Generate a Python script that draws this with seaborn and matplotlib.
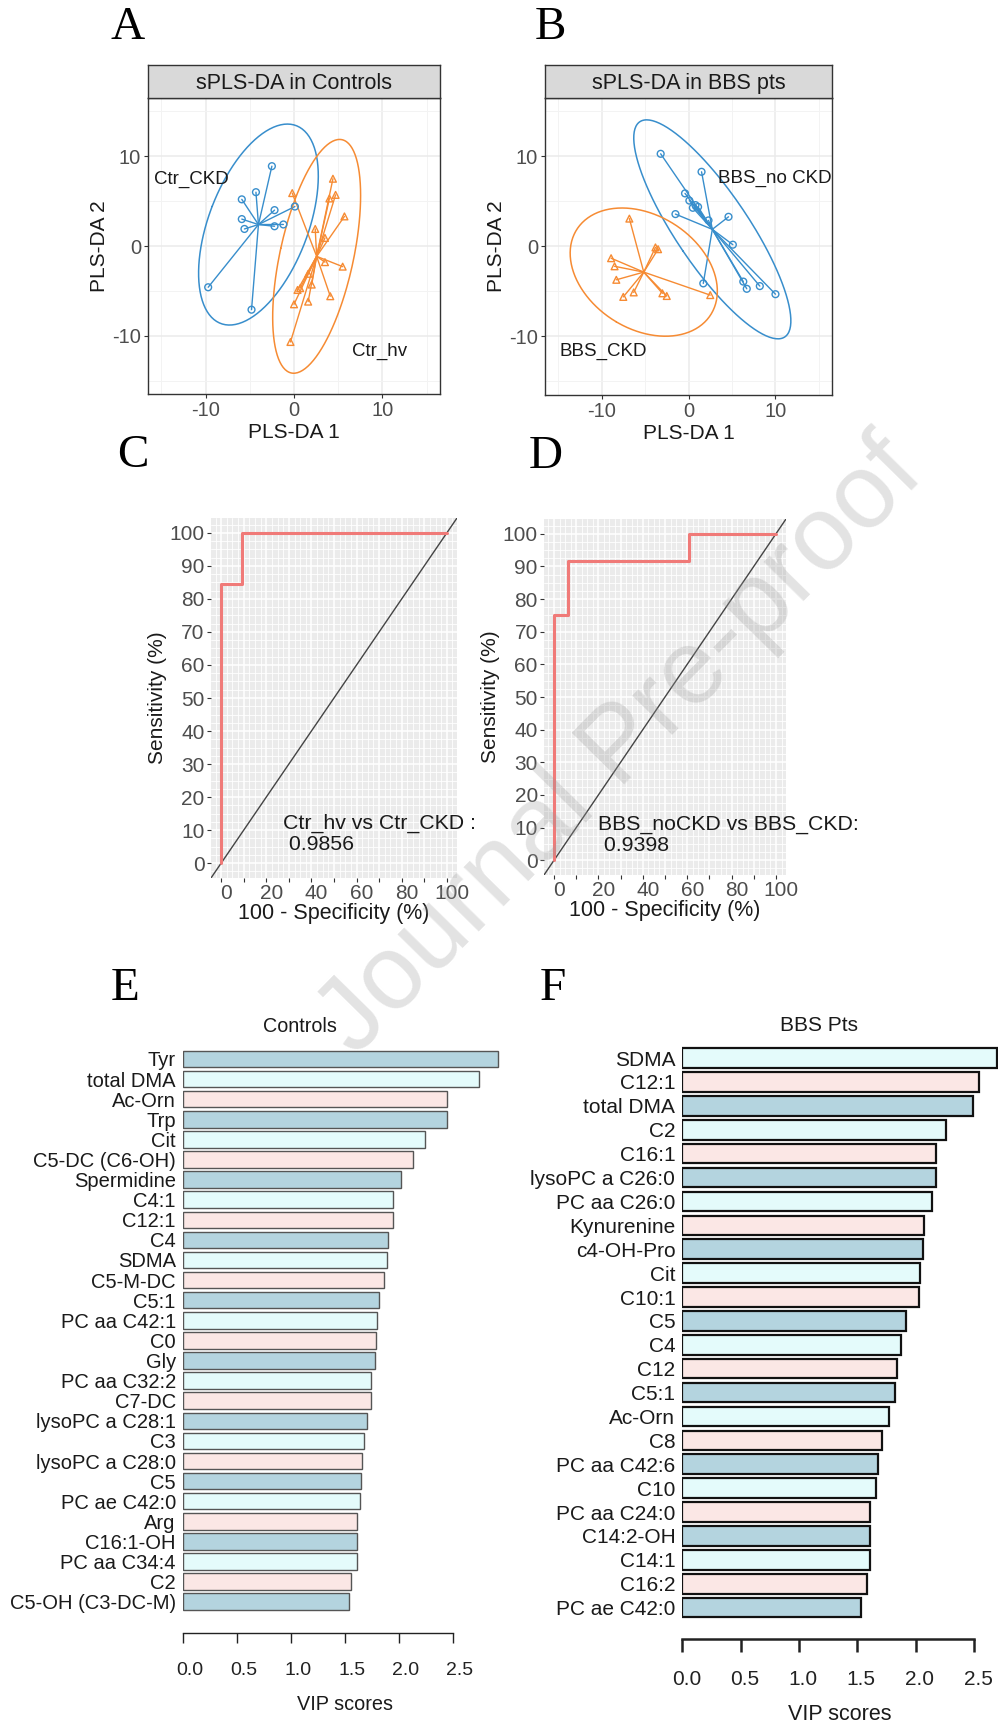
import numpy as np
import pandas as pd
import seaborn as sns
import matplotlib.pyplot as plt
import matplotlib.transforms as mtransforms

# ---------------- data ----------------
# A: sPLS-DA scores in controls
ctr_ckd_x = [-2.5, -4.3, -5.9, -5.9, -5.6, -2.2, 0.1, -1.2, -2.2, -9.7, -4.8]
ctr_ckd_y = [8.9, 6.0, 5.2, 3.0, 1.9, 4.0, 4.4, 2.4, 2.2, -4.6, -7.1]
ctr_hv_x = [4.4, 4.7, 4.0, -0.2, 5.7, 2.4, 3.5, 3.5, 5.5, 2.0, 1.6, 0.4, 0.7, 4.1, 1.6, 0.0, -0.4]
ctr_hv_y = [7.5, 5.7, 5.3, 5.9, 3.3, 1.9, 0.9, -1.8, -2.3, -4.3, -3.1, -4.9, -4.7, -5.6, -6.2, -6.5, -10.7]

# B: sPLS-DA scores in BBS patients
bbs_nockd_x = [-3.2, 1.5, -0.4, 0.1, 0.5, 1.1, 0.8, -1.5, 4.6, 2.3, 5.1, 1.7, 6.3, 6.7, 8.2, 10.0]
bbs_nockd_y = [10.3, 8.3, 5.9, 5.1, 4.3, 4.4, 4.6, 3.6, 3.3, 2.9, 0.2, -4.1, -3.9, -4.7, -4.4, -5.3]
bbs_ckd_x = [-6.8, -3.8, -3.5, -8.9, -8.5, -8.3, -6.3, -7.5, -3.0, -2.5, 2.5]
bbs_ckd_y = [3.1, -0.1, -0.3, -1.3, -2.2, -3.7, -5.1, -5.6, -5.2, -5.5, -5.4]

# C / D: ROC curves (100 - specificity, sensitivity)
roc_c_fpr = [0, 0, 9.1, 9.1, 100]
roc_c_tpr = [0, 84.6, 84.6, 100, 100]
roc_d_fpr = [0, 0, 6.25, 6.25, 61.0, 61.0, 100]
roc_d_tpr = [0, 75.0, 75.0, 91.7, 91.7, 100, 100]
auc_c = "0.9856"
auc_d = "0.9398"

# E: VIP scores, controls
vip_e_names = ["Tyr", "total DMA", "Ac-Orn", "Trp", "Cit", "C5-DC (C6-OH)", "Spermidine",
               "C4:1", "C12:1", "C4", "SDMA", "C5-M-DC", "C5:1", "PC aa C42:1", "C0",
               "Gly", "PC aa C32:2", "C7-DC", "lysoPC a C28:1", "C3", "lysoPC a C28:0",
               "C5", "PC ae C42:0", "Arg", "C16:1-OH", "PC aa C34:4", "C2", "C5-OH (C3-DC-M)"]
vip_e_vals = [2.92, 2.74, 2.45, 2.45, 2.24, 2.13, 2.02, 1.95, 1.95, 1.90, 1.89, 1.86, 1.82,
              1.80, 1.79, 1.78, 1.74, 1.74, 1.71, 1.68, 1.66, 1.65, 1.64, 1.61, 1.61, 1.61,
              1.56, 1.54]

# F: VIP scores, BBS patients
vip_f_names = ["SDMA", "C12:1", "total DMA", "C2", "C16:1", "lysoPC a C26:0", "PC aa C26:0",
               "Kynurenine", "c4-OH-Pro", "Cit", "C10:1", "C5", "C4", "C12", "C5:1", "Ac-Orn",
               "C8", "PC aa C42:6", "C10", "PC aa C24:0", "C14:2-OH", "C14:1", "C16:2",
               "PC ae C42:0"]
vip_f_vals = [2.70, 2.54, 2.49, 2.26, 2.17, 2.17, 2.14, 2.07, 2.06, 2.04, 2.03, 1.92, 1.87,
              1.84, 1.82, 1.77, 1.71, 1.68, 1.66, 1.61, 1.61, 1.61, 1.58, 1.53]

# ---------------- style ----------------
sns.set_theme(style="white")
plt.rcParams["font.family"] = ["Liberation Sans", "DejaVu Sans"]
plt.rcParams["axes.unicode_minus"] = False

BLUE = "#388ECC"
ORANGE = "#F68B33"
LBLUE, LCYAN, LROSE = "#ADD8E6", "#E0FFFF", "#FFE4E1"

W, H = 998, 1726
fig = plt.figure(figsize=(W / 100, H / 100), dpi=100)


def box(x0, y0, x1, y1):
    return [x0 / W, 1 - y1 / H, (x1 - x0) / W, (y1 - y0) / H]


def shift_xticklabels(ax, px):
    off = mtransforms.ScaledTranslation(px / 100, 0, fig.dpi_scale_trans)
    for lab in ax.get_xticklabels():
        lab.set_transform(lab.get_transform() + off)


def conf_ellipse(xs, ys, scale=2.4477, n=200):
    pts = np.column_stack([xs, ys])
    mu = pts.mean(axis=0)
    vals, vecs = np.linalg.eigh(np.cov(pts, rowvar=False))
    t = np.linspace(0, 2 * np.pi, n)
    ell = vecs @ (np.sqrt(vals)[:, None] * np.stack([np.cos(t), np.sin(t)])) * scale
    return mu[0] + ell[0], mu[1] + ell[1]


def pls_panel(rect, strip_rect, title, groups, labels):
    ax = fig.add_axes(rect)
    ax.set_facecolor("white")
    for xs, ys, color, marker in groups:
        cx, cy = np.mean(xs), np.mean(ys)
        for px, py in zip(xs, ys):
            ax.plot([cx, px], [cy, py], color=color, lw=1.0, zorder=2)
        df = pd.DataFrame({"x": xs, "y": ys})
        sns.scatterplot(data=df, x="x", y="y", ax=ax, marker=marker, s=24,
                        color=color, linewidth=1.0, zorder=3)
        coll = ax.collections[-1]
        coll.set_facecolor("none")
        coll.set_edgecolor(color)
        ex, ey = conf_ellipse(xs, ys)
        ax.plot(ex, ey, color=color, lw=1.1, zorder=2)
    for txt, tx, ty in labels:
        ax.text(tx, ty, txt, ha="center", va="center", fontsize=13.5, color="#1a1a1a")
    ax.set_xlim(-16.5, 16.5)
    ax.set_ylim(-16.5, 16.5)
    ax.set_xticks([-10, 0, 10])
    ax.set_yticks([-10, 0, 10])
    ax.set_xticks([-15, -5, 5, 15], minor=True)
    ax.set_yticks([-15, -5, 5, 15], minor=True)
    ax.grid(which="major", color="#EBEBEB", lw=1.1)
    ax.grid(which="minor", color="#F3F3F3", lw=0.7)
    ax.set_axisbelow(True)
    ax.tick_params(which="major", length=3, width=0.8, color="#333333",
                   labelsize=14.5, labelcolor="#4D4D4D", pad=2, left=True, bottom=True)
    ax.tick_params(which="minor", length=0)
    ax.set_xlabel("PLS-DA 1", fontsize=15, color="#1a1a1a", labelpad=2)
    ax.set_ylabel("PLS-DA 2", fontsize=15, color="#1a1a1a", labelpad=2)
    for s in ax.spines.values():
        s.set_color("#333333")
        s.set_linewidth(1.0)
    st = fig.add_axes(strip_rect)
    st.set_facecolor("#D9D9D9")
    st.set_xticks([])
    st.set_yticks([])
    for s in st.spines.values():
        s.set_color("#333333")
        s.set_linewidth(1.0)
    st.text(0.5, 0.45, title, ha="center", va="center", fontsize=15.5, color="#1a1a1a",
            transform=st.transAxes)
    return ax


pls_panel(box(148, 98, 440, 394), box(148, 65, 440, 98), "sPLS-DA in Controls",
          [(ctr_ckd_x, ctr_ckd_y, BLUE, "o"), (ctr_hv_x, ctr_hv_y, ORANGE, "^")],
          [("Ctr_CKD", -11.6, 7.4), ("Ctr_hv", 9.7, -11.8)])
pls_panel(box(545, 98, 832, 395), box(545, 65, 832, 98), "sPLS-DA in BBS pts",
          [(bbs_nockd_x, bbs_nockd_y, BLUE, "o"), (bbs_ckd_x, bbs_ckd_y, ORANGE, "^")],
          [("BBS_no CKD", 9.9, 7.6), ("BBS_CKD", -9.8, -11.7)])


def roc_panel(rect, fpr, tpr, text, tx, ty):
    ax = fig.add_axes(rect)
    ax.set_facecolor("#EBEBEB")
    sns.lineplot(x=fpr, y=tpr, ax=ax, sort=False, estimator=None, color="#F07A78",
                 lw=2.2, zorder=3)
    ax.axline((0, 0), (100, 100), color="#444444", lw=1.0, zorder=2)
    ax.set_xlim(-4.5, 104.5)
    ax.set_ylim(-4.5, 104.5)
    ax.set_xticks(np.arange(0, 101, 10))
    ax.set_xticklabels([str(v) if v % 20 == 0 else "" for v in range(0, 101, 10)])
    ax.set_yticks(np.arange(0, 101, 10))
    ax.set_xticks(np.arange(-2.5, 105, 2.5), minor=True)
    ax.set_yticks(np.arange(-2.5, 105, 2.5), minor=True)
    ax.grid(which="major", color="white", lw=1.1)
    ax.grid(which="minor", color="white", lw=0.6)
    ax.set_axisbelow(True)
    ax.tick_params(which="major", length=3, width=0.8, color="#333333", labelsize=15,
                   labelcolor="#4D4D4D", pad=1.5, left=True, bottom=True)
    ax.tick_params(which="minor", length=0)
    shift_xticklabels(ax, 5)
    for s in ax.spines.values():
        s.set_visible(False)
    ax.set_xlabel("100 - Specificity (%)", fontsize=15.5, color="#1a1a1a", labelpad=0)
    ax.set_ylabel("Sensitivity (%)", fontsize=15, color="#1a1a1a", labelpad=2)
    ax.text(tx, ty, text, ha="left", va="center", fontsize=15.3, color="#1a1a1a",
            linespacing=1.15, zorder=4)
    return ax


roc_panel(box(211, 518, 457, 878), roc_c_fpr, roc_c_tpr,
          "Ctr_hv vs Ctr_CKD :\n " + auc_c, 27.3, 8.8)
roc_panel(box(544, 519, 786, 875), roc_d_fpr, roc_d_tpr,
          "BBS_noCKD vs BBS_CKD:\n " + auc_d, 20.0, 7.7)


def vip_panel(rect, names, vals, cycle, edge, elw, spine_lw, label_fs, tick_fs,
              title_fs, offset, ticklen, tickpad, xmax, lab_shift):
    ax = fig.add_axes(rect)
    pal = {n: cycle[i % 3] for i, n in enumerate(names)}
    df = pd.DataFrame({"name": names, "vip": vals})
    sns.barplot(data=df, x="vip", y="name", hue="name", order=names, palette=pal,
                legend=False, width=0.82, edgecolor=edge, linewidth=elw, ax=ax,
                orient="h")
    ax.set_xlim(0, xmax)
    ax.set_ylim(len(names) - 0.4, -0.6)
    ax.set_xticks([0, 0.5, 1.0, 1.5, 2.0, 2.5])
    ax.set_xticklabels(["0.0", "0.5", "1.0", "1.5", "2.0", "2.5"])
    for side in ["top", "right", "left"]:
        ax.spines[side].set_visible(False)
    ax.spines["bottom"].set_position(("outward", offset))
    ax.spines["bottom"].set_bounds(0, 2.5)
    ax.spines["bottom"].set_color("#222222")
    ax.spines["bottom"].set_linewidth(spine_lw)
    ax.tick_params(axis="x", direction="out", length=ticklen, width=spine_lw,
                   color="#222222", labelsize=tick_fs, labelcolor="#222222", pad=tickpad,
                   bottom=True)
    ax.tick_params(axis="y", length=0, labelsize=label_fs, labelcolor="#1a1a1a", pad=5)
    shift_xticklabels(ax, lab_shift)
    ax.set_ylabel("")
    ax.set_xlabel("VIP scores", fontsize=title_fs, color="#1a1a1a", labelpad=11)
    ax.set_facecolor("none")
    return ax


vip_panel(box(182.7, 1046.9, 506.7, 1613.8), vip_e_names, vip_e_vals,
          [LBLUE, LCYAN, LROSE], "#555555", 1.0, 1.0, 14.5, 14, 14.3,
          13.8, 7.2, 14, 3.0, 7)
vip_panel(box(682.3, 1043.7, 998.0, 1622.0), vip_f_names, vip_f_vals,
          [LCYAN, LROSE, LBLUE], "#111111", 1.6, 1.8, 15, 15, 15.5,
          12.2, 9.4, 13, 2.705, 4)

fig.text(300 / W, 1 - 1026.7 / H, "Controls", ha="center", va="center", fontsize=14.2,
         color="#1a1a1a")
fig.text(819 / W, 1 - 1025.7 / H, "BBS Pts", ha="center", va="center", fontsize=15,
         color="#1a1a1a")

# panel letters
for letter, lx, ly in [("A", 128, 28), ("B", 550, 28), ("C", 133, 456),
                       ("D", 546, 457), ("E", 125, 989), ("F", 553, 989)]:
    fig.text(lx / W, 1 - ly / H, letter, ha="center", va="center", fontsize=34,
             family="Liberation Serif", color="black")

# watermark
fig.text(621 / W, 1 - 748 / H, "Journal Pre-proof", rotation=45.5, ha="center",
         va="center", fontsize=76, color="#9a9a9a", alpha=0.28, zorder=10)

fig.savefig("out.png", dpi=100)
